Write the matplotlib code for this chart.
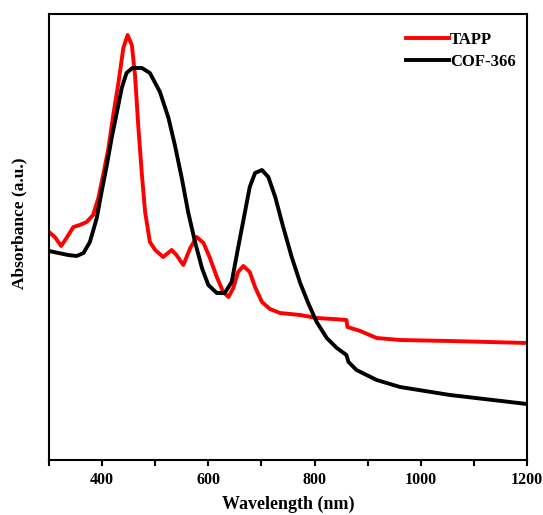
import numpy as np
from matplotlib import pyplot as plt

plt.rcParams['font.family'] = ['Liberation Serif', 'DejaVu Serif']
plt.rcParams['font.weight'] = 'bold'

# wavelengths (nm) and absorbance (arbitrary units)
tapp_nm = [300, 311, 323, 333, 346, 358, 371, 383, 393, 402, 412, 421, 431, 440,
           448, 456, 462, 468, 475, 481, 490, 500, 515, 531, 540, 553, 566, 578,
           591, 603, 616, 628, 638, 647, 656, 666, 678, 688, 701, 716, 735, 773,
           804, 835, 860, 862, 886, 917, 961, 1055, 1200]
tapp_abs = [228, 223, 214, 222, 233, 235, 238, 245, 262, 285, 312, 345, 378, 412,
            425, 415, 385, 335, 285, 248, 218, 210, 203, 210, 205, 195, 212, 223,
            217, 202, 183, 168, 163, 172, 188, 194, 188, 173, 158, 151, 147, 145,
            142, 141, 140, 133, 129, 122, 120, 119, 117]

cof_nm = [300, 318, 336, 352, 365, 377, 390, 399, 409, 418, 428, 437, 446, 457,
          475, 490, 509, 525, 537, 550, 562, 575, 588, 600, 616, 631, 644, 656,
          669, 678, 688, 701, 713, 726, 741, 757, 773, 788, 804, 823, 842, 860,
          864, 879, 917, 961, 1055, 1200]
cof_abs = [209, 207, 205, 204, 207, 218, 242, 268, 295, 322, 348, 372, 387, 392,
           392, 387, 368, 342, 315, 282, 248, 218, 192, 175, 167, 167, 178, 212,
           248, 273, 287, 290, 283, 263, 233, 203, 177, 157, 138, 122, 112, 105,
           98, 90, 80, 73, 65, 56]

fig = plt.figure(figsize=(5.43, 5.15), dpi=100)
ax = fig.add_axes([0.0902, 0.1068, 0.8803, 0.866])

ax.plot(tapp_nm, tapp_abs, color='#ff0000', lw=2.8, label='TAPP')
ax.plot(cof_nm, cof_abs, color='black', lw=2.8, label='COF-366')

ax.set_xlim(300, 1200)
ax.set_ylim(0, 446)
ax.set_xticks([400, 600, 800, 1000, 1200])
ax.set_xticks([300, 500, 700, 900, 1100], minor=True)
ax.set_yticks([])
ax.tick_params(axis='x', which='both', direction='out', length=4.5, width=1.5,
               labelsize=11.5, pad=4)
for lab in ax.get_xticklabels():
    lab.set_fontweight('bold')
for s in ax.spines.values():
    s.set_linewidth(1.5)

ax.set_xlabel('Wavelength (nm)', fontsize=13, fontweight='bold', labelpad=6)
ax.set_ylabel('Absorbance (a.u.)', fontsize=12.5, fontweight='bold')
ax.yaxis.set_label_coords(-0.045, 0.53)

leg = ax.legend(loc='upper right', bbox_to_anchor=(0.99, 0.975), frameon=False,
                handlelength=2.6, handletextpad=0.05, borderaxespad=0,
                labelspacing=0.35, prop={'weight': 'bold', 'size': 12},
                borderpad=0.4)

plt.savefig('out.png', dpi=100)
